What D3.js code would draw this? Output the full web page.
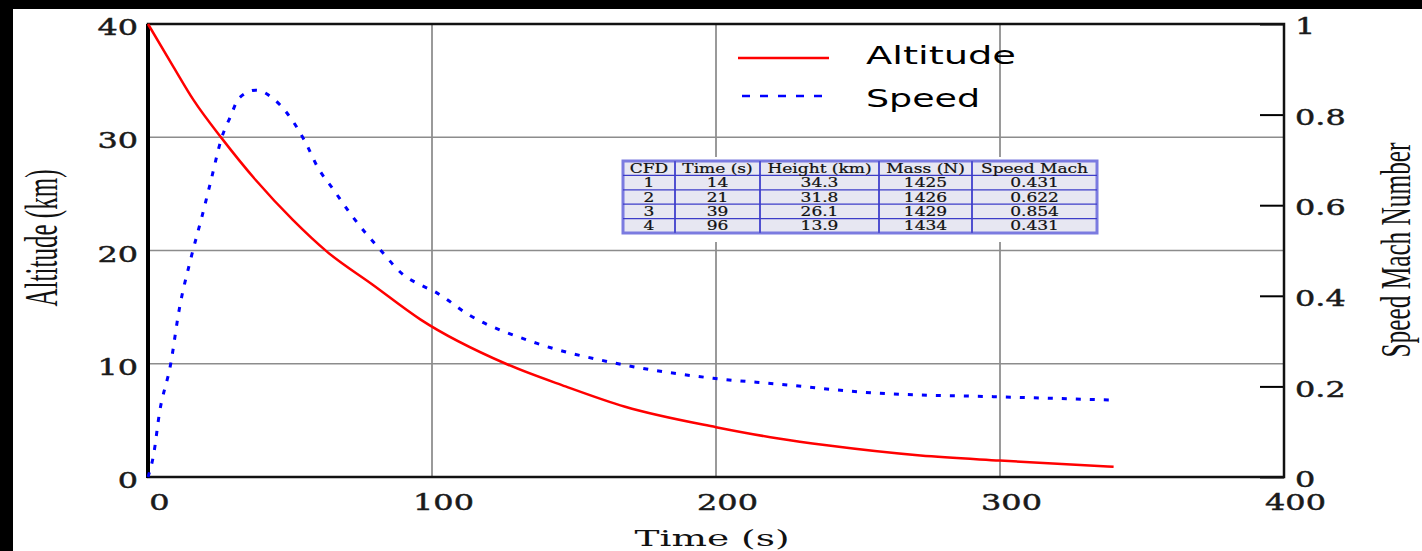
<!DOCTYPE html>
<html>
<head>
<meta charset="utf-8">
<script src="https://cdn.jsdelivr.net/npm/d3@7"></script>
<style>
  body { margin: 0; background: #000; }
  svg { display: block; }
  .tick text { font-family: "DejaVu Serif", serif; font-size: 22px; fill: #1a1a1a; stroke: #1a1a1a; stroke-width: 0.45px; }
</style>
</head>
<body>
<div id="chart"></div>
<script>
// altitude trace (km) vs time (s)
const altTime  = [0, 9, 16, 26, 38, 51, 63, 79, 96, 126, 147, 168, 200, 222, 239, 272, 300, 340];
const altValue = [40, 36.2, 33.3, 29.9, 26.2, 22.7, 19.9, 17.0, 13.9, 10.0, 8.0, 6.2, 4.4, 3.4, 2.8, 1.9, 1.45, 0.9];

// speed trace (Mach) vs time (s)
const speedTime  = [0, 2, 4, 8, 11, 15, 19, 22, 26, 29, 32, 38, 44, 49, 55, 60, 65, 72, 82, 90, 96, 101, 113, 137, 164, 199, 222, 257, 300, 339];
const speedValue = [0, 0.05, 0.14, 0.25, 0.37, 0.48, 0.575, 0.65, 0.75, 0.795, 0.836, 0.854, 0.836, 0.803, 0.744, 0.681, 0.637, 0.575, 0.50, 0.446, 0.424, 0.409, 0.358, 0.295, 0.252, 0.218, 0.205, 0.185, 0.177, 0.170];

const xTicks = [0, 100, 200, 300, 400];
const altTicks = [0, 10, 20, 30, 40];
const speedTicks = [0, 0.2, 0.4, 0.6, 0.8, 1];

// inset table
const tableHeader = ["CFD", "Time (s)", "Height (km)", "Mass (N)", "Speed Mach"];
const tableCfd    = ["1", "2", "3", "4"];
const tableTime   = ["14", "21", "39", "96"];
const tableHeight = ["34.3", "31.8", "26.1", "13.9"];
const tableMass   = ["1425", "1426", "1429", "1434"];
const tableSpeed  = ["0.431", "0.622", "0.854", "0.431"];

const W = 1422, H = 551;
const plot = { left: 148, right: 1284, top: 24, bottom: 477 };
const SX = 1.45; // the original is stretched sideways, so text is too

const svg = d3.select("#chart").append("svg").attr("width", W).attr("height", H);

// black bands top and left, white page
svg.append("rect").attr("width", W).attr("height", H).attr("fill", "#000");
svg.append("rect").attr("x", 13).attr("y", 9).attr("width", W - 13).attr("height", H - 9).attr("fill", "#fff");

const x = d3.scaleLinear().domain([0, 400]).range([plot.left, plot.right]);
const yAlt = d3.scaleLinear().domain([0, 40]).range([plot.bottom, plot.top]);
const ySpd = d3.scaleLinear().domain([0, 1]).range([plot.bottom, plot.top]);

// grid
svg.append("g").selectAll("line").data([100, 200, 300]).join("line")
  .attr("x1", d => x(d)).attr("x2", d => x(d))
  .attr("y1", plot.top).attr("y2", plot.bottom)
  .attr("stroke", "#9a9a9a").attr("stroke-width", 2);
svg.append("g").selectAll("line").data([10, 20, 30]).join("line")
  .attr("x1", plot.left).attr("x2", plot.right)
  .attr("y1", d => yAlt(d)).attr("y2", d => yAlt(d))
  .attr("stroke", "#8c8c8c").attr("stroke-width", 1.3);

// axes (labels only, frame drawn below)
const gx = svg.append("g").attr("transform", `translate(0,${plot.bottom})`)
  .call(d3.axisBottom(x).tickValues(xTicks).tickSize(0).tickFormat(d3.format("d")));
gx.selectAll("text").attr("y", 33).attr("dy", 0).attr("x", 11 / SX)
  .attr("transform", `scale(${SX},1)`);

const gl = svg.append("g").attr("transform", `translate(${plot.left},0)`)
  .call(d3.axisLeft(yAlt).tickValues(altTicks).tickSize(0).tickFormat(d3.format("d")));
gl.selectAll("text").attr("x", -10 / SX).attr("dy", "0.48em")
  .attr("transform", `scale(${SX},1)`);

const gr = svg.append("g").attr("transform", `translate(${plot.right},0)`)
  .call(d3.axisRight(ySpd).tickValues(speedTicks).tickSize(-24)
    .tickFormat(d => (d === 0 || d === 1) ? String(d) : d3.format(".1f")(d)));
gr.selectAll("line").attr("stroke", "#000").attr("stroke-width", 2);
gr.selectAll("text").attr("x", 11 / SX).attr("dy", "0.44em")
  .attr("transform", `scale(${SX},1)`);

[gx, gl, gr].forEach(g => g.select(".domain").remove());

// frame
svg.append("rect")
  .attr("x", plot.left).attr("y", plot.top)
  .attr("width", plot.right - plot.left).attr("height", plot.bottom - plot.top)
  .attr("fill", "none").attr("stroke", "#111").attr("stroke-width", 2.5);
svg.append("line").attr("x1", plot.left).attr("x2", plot.left)
  .attr("y1", plot.top).attr("y2", plot.bottom + 1)
  .attr("stroke", "#000").attr("stroke-width", 4);

// series
const altLine = d3.line().x(d => x(d[0])).y(d => yAlt(d[1])).curve(d3.curveMonotoneX);
const spdLine = d3.line().x(d => x(d[0])).y(d => ySpd(d[1])).curve(d3.curveMonotoneX);

svg.append("path").datum(d3.zip(altTime, altValue))
  .attr("d", altLine).attr("fill", "none")
  .attr("stroke", "#ff0000").attr("stroke-width", 2.5);

svg.append("path").datum(d3.zip(speedTime, speedValue))
  .attr("d", spdLine).attr("fill", "none")
  .attr("stroke", "#0000ff").attr("stroke-width", 3)
  .attr("stroke-dasharray", "5,9");

// legend
const lg = svg.append("g");
lg.append("line").attr("x1", 738).attr("x2", 829).attr("y1", 58).attr("y2", 58)
  .attr("stroke", "#ff0000").attr("stroke-width", 2.5);
lg.append("line").attr("x1", 742).attr("x2", 824).attr("y1", 96).attr("y2", 96)
  .attr("stroke", "#0000ff").attr("stroke-width", 2.5).attr("stroke-dasharray", "8,10");
lg.append("text").attr("x", 866).attr("y", 64).text("Altitude")
  .attr("font-family", "DejaVu Sans").attr("font-size", 24)
  .attr("textLength", 150).attr("lengthAdjust", "spacingAndGlyphs");
lg.append("text").attr("x", 866).attr("y", 107).text("Speed")
  .attr("font-family", "DejaVu Sans").attr("font-size", 24)
  .attr("textLength", 114).attr("lengthAdjust", "spacingAndGlyphs");

// axis titles
svg.append("text").attr("x", 712).attr("y", 546).attr("text-anchor", "middle")
  .attr("font-family", "DejaVu Serif").attr("font-size", 22).attr("fill", "#111")
  .attr("textLength", 155).attr("lengthAdjust", "spacingAndGlyphs")
  .text("Time (s)");

svg.append("text").attr("transform", "translate(57,238) scale(1.9,1) rotate(-90)")
  .attr("text-anchor", "middle")
  .attr("font-family", "Liberation Serif").attr("font-size", 24).attr("fill", "#111")
  .attr("textLength", 137).attr("lengthAdjust", "spacingAndGlyphs")
  .text("Altitude (km)");

svg.append("text").attr("transform", "translate(1410,250) scale(1.75,1) rotate(-90)")
  .attr("text-anchor", "middle")
  .attr("font-family", "Liberation Serif").attr("font-size", 24).attr("fill", "#111")
  .attr("textLength", 215).attr("lengthAdjust", "spacingAndGlyphs")
  .text("Speed Mach Number");

// inset table
const colEdges = [623, 675, 760, 879, 972, 1097];
const rows = [tableHeader].concat(d3.range(4).map(i =>
  [tableCfd[i], tableTime[i], tableHeight[i], tableMass[i], tableSpeed[i]]));
const rowY = d3.scaleBand().domain(d3.range(rows.length)).range([161, 233]);

const tg = svg.append("g");
tg.append("rect").attr("x", 617).attr("y", 157).attr("width", 487).attr("height", 85).attr("fill", "#fff");
tg.append("rect").attr("x", colEdges[0]).attr("y", 161)
  .attr("width", colEdges[5] - colEdges[0]).attr("height", 72)
  .attr("fill", "#e7e7f2").attr("stroke", "#7b7be0").attr("stroke-width", 3);
tg.selectAll(".vl").data(colEdges.slice(1, 5)).join("line")
  .attr("x1", d => d).attr("x2", d => d).attr("y1", 161).attr("y2", 233)
  .attr("stroke", "#5050d0").attr("stroke-width", 2);
tg.selectAll(".hl").data(d3.range(1, rows.length)).join("line")
  .attr("x1", colEdges[0]).attr("x2", colEdges[5])
  .attr("y1", d => rowY(d)).attr("y2", d => rowY(d))
  .attr("stroke", "#3c3cc8").attr("stroke-width", 1.3);

rows.forEach((row, ri) => {
  row.forEach((cell, ci) => {
    const cx = (colEdges[ci] + colEdges[ci + 1]) / 2;
    const cy = rowY(ri) + rowY.bandwidth() / 2 + 4.5;
    tg.append("text")
      .attr("transform", `translate(${cx},${cy}) scale(1.42,1)`)
      .attr("text-anchor", "middle")
      .attr("font-family", "DejaVu Serif").attr("font-size", 12).attr("fill", "#111")
      .attr("stroke", "#111").attr("stroke-width", 0.2)
      .text(cell);
  });
});
</script>
</body>
</html>
